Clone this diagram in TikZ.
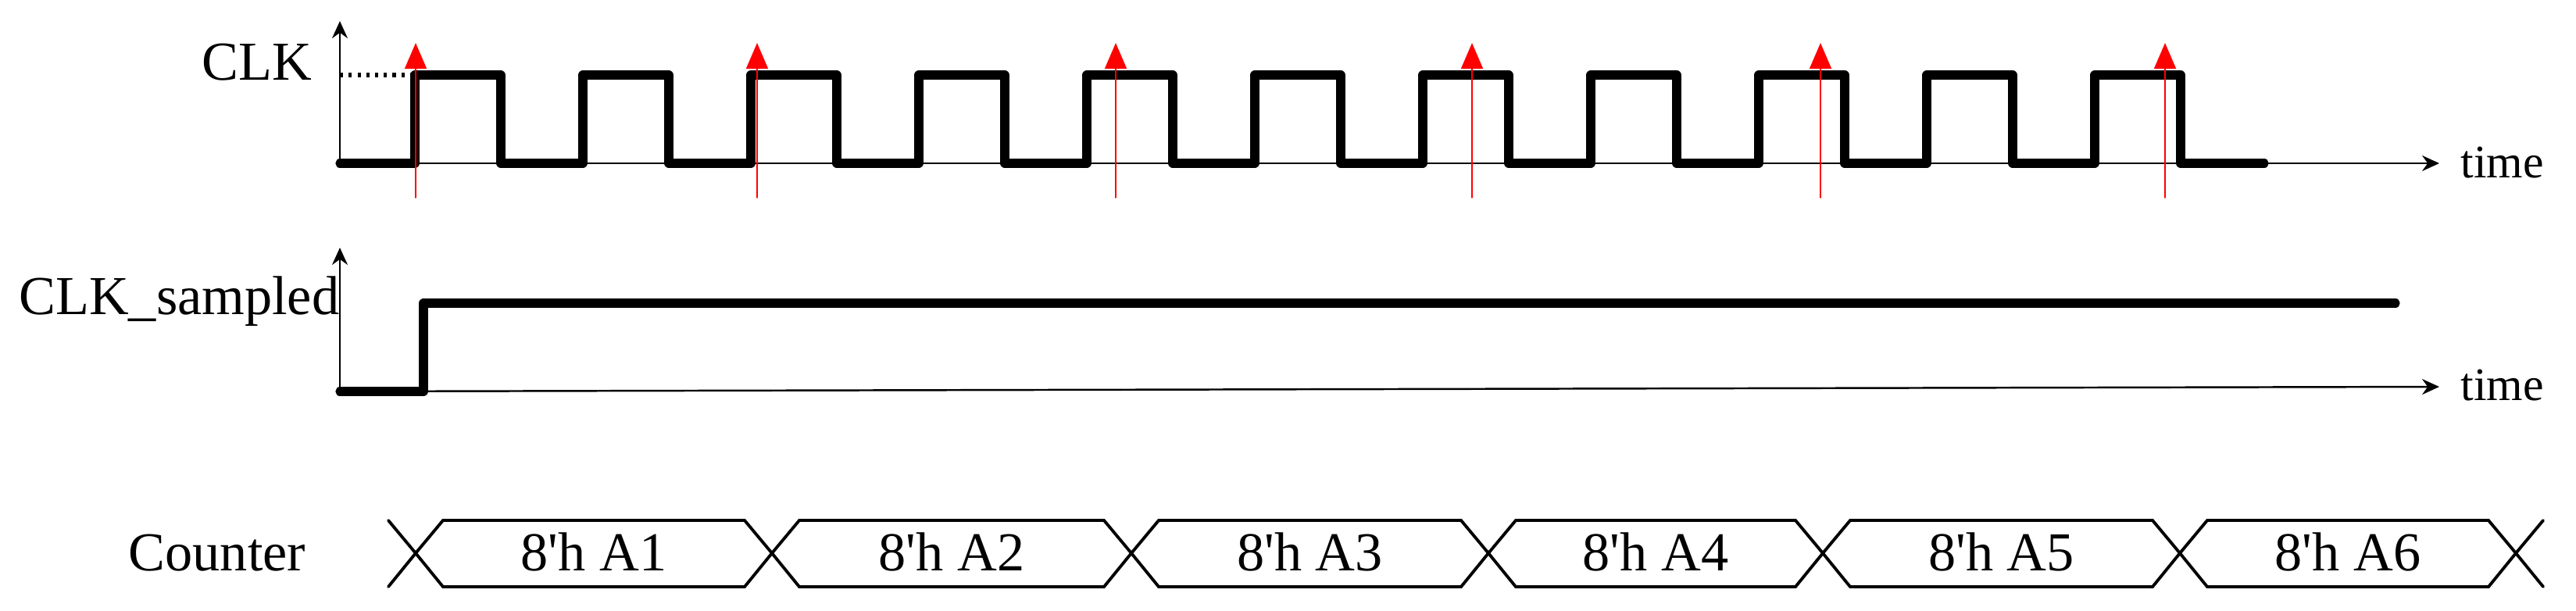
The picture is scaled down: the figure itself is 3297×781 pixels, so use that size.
\documentclass[tikz,border=0pt]{standalone}
\usepackage{fontspec}
\setmainfont{Liberation Serif}
\usetikzlibrary{arrows.meta}

\tikzset{
	sig/.style={line width=3.2pt},
	axis/.style={line width=0.7pt,-{Stealth[length=2.2mm,width=2mm]}},
	smp/.style={red,line width=0.5pt,-{Triangle[length=3.3mm,width=2.8mm]}},
	bus/.style={line width=1.1pt,line join=miter},
	lbl/.style={inner sep=0pt,font=\fontsize{20}{24}\selectfont},
	tlbl/.style={inner sep=0pt,font=\fontsize{17}{20}\selectfont,anchor=base west}
}

\begin{document}
\begin{tikzpicture}[x=0.1mm,y=0.1mm,line join=round,line cap=round]
	\useasboundingbox (0,0) rectangle (3297,781);
	% CLK
	\begin{scope}
		\def\lo{572};
		\def\hi{685};
		\draw[axis] (435,\lo)--(435,754);
		\draw[axis] (435,\lo)--(3122,\lo);
		\node[lbl,anchor=base east] (clk) at (400,678) {CLK};
		\node[tlbl] (t1) at (3149,553) {time};
		\draw[line width=1.6pt,line cap=butt,dash pattern=on 1.2pt off 2pt] (435,\hi)--(526,\hi);
		\draw[sig] (435,\lo)
			\foreach \k in {0,...,10}{
				--({531+215*\k},\lo)--({531+215*\k},\hi)--({641+215*\k},\hi)--({641+215*\k},\lo)
			}--(2898,\lo);
		\foreach \x in {532,969,1428,1884,2330,2771}
			\draw[smp] (\x,528)--(\x,726);
	\end{scope}
	% CLK_sampled
	\begin{scope}
		\def\lo{280};
		\def\hi{393};
		\draw[axis] (435,\lo)--(435,464);
		\draw[axis] (435,\lo)--(3122,286);
		\node[lbl,anchor=base east] (clksmp) at (435,379) {CLK\_sampled};
		\node[tlbl] (t2) at (3149,269) {time};
		\draw[sig] (435,\lo)--(542,\lo)--(542,\hi)--(3066,\hi);
	\end{scope}
	% Counter
	\begin{scope}
		\def\h{35};
		\node[lbl,anchor=base west] (cnt) at (164,51) {Counter};
		\draw[bus] (532-\h,115)--(532,73)--(532-\h,30);
		\draw[bus] (3220+\h,115)--(3220,73)--(3220+\h,30);
		\foreach \a/\b/\v [count=\i] in {
			532/988/A1,
			988/1448/A2,
			1448/1905/A3,
			1905/2333/A4,
			2333/2790/A5,
			2790/3220/A6
		}{
			\draw[bus] (\a,73)--(\a+\h,115)--(\b-\h,115)--(\b,73)--(\b-\h,30)--(\a+\h,30)--cycle;
			\node[lbl,anchor=base] (v\i) at ({(\a+\b)/2},51) {8\textquotesingle h \v};
		}
	\end{scope}
\end{tikzpicture}
\end{document}
